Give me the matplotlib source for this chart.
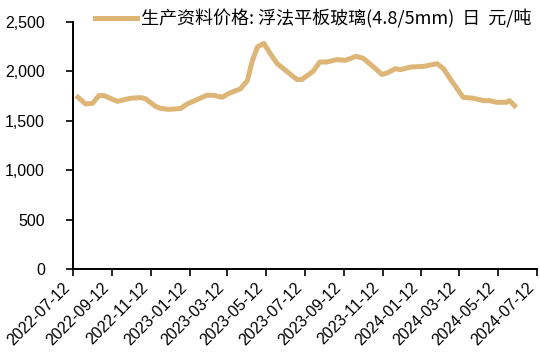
import pandas as pd
import matplotlib
matplotlib.use("Agg")
import matplotlib.pyplot as plt
import matplotlib.dates as mdates
from matplotlib.ticker import FuncFormatter

plt.rcParams["font.family"] = ["Liberation Sans", "Noto Sans CJK SC", "DejaVu Sans"]

# weekly float glass price, yuan/ton
dates = [
    "2022-07-20", "2022-08-01", "2022-08-12", "2022-08-22", "2022-08-30",
    "2022-09-20", "2022-10-11", "2022-10-27", "2022-11-04", "2022-11-19",
    "2022-11-27", "2022-12-10", "2022-12-29", "2023-01-08", "2023-02-08",
    "2023-02-19", "2023-03-04", "2023-03-17", "2023-04-02", "2023-04-13",
    "2023-04-21", "2023-04-29", "2023-05-09", "2023-05-19", "2023-05-30",
    "2023-06-09", "2023-06-20", "2023-06-30", "2023-07-08", "2023-07-26",
    "2023-08-05", "2023-08-16", "2023-09-01", "2023-09-14", "2023-10-02",
    "2023-10-13", "2023-10-29", "2023-11-11", "2023-11-19", "2023-12-02",
    "2023-12-10", "2023-12-26", "2024-01-16", "2024-02-06", "2024-02-16",
    "2024-03-03", "2024-03-18", "2024-04-03", "2024-04-19", "2024-04-29",
    "2024-05-09", "2024-05-25", "2024-05-30", "2024-06-07",
]
prices = [
    1738, 1670, 1677, 1755, 1755,
    1697, 1728, 1735, 1721, 1646,
    1626, 1615, 1625, 1670, 1758,
    1758, 1738, 1783, 1823, 1908,
    2112, 2248, 2283, 2180, 2078,
    2027, 1969, 1918, 1918, 2003,
    2095, 2095, 2119, 2112, 2153,
    2130, 2044, 1969, 1983, 2027,
    2017, 2044, 2051, 2078, 2027,
    1874, 1738, 1728, 1704, 1704,
    1687, 1687, 1704, 1653,
]
tick_dates = [
    "2022-07-12", "2022-09-12", "2022-11-12", "2023-01-12", "2023-03-12",
    "2023-05-12", "2023-07-12", "2023-09-12", "2023-11-12", "2024-01-12",
    "2024-03-12", "2024-05-12", "2024-07-12",
]
series_label = "生产资料价格: 浮法平板玻璃(4.8/5mm)  日  元/吨"

df = pd.DataFrame({"date": pd.to_datetime(dates), "price": prices})

fig = plt.figure(figsize=(5.4, 3.52), dpi=100)
ax = fig.add_axes([0.135, 0.236, 0.859, 0.7015])

ax.plot(df["date"], df["price"], color="#DDB677", lw=3.6,
        solid_joinstyle="round", label=series_label)

ax.set_ylim(0, 2500)
ax.set_yticks(range(0, 2501, 500))
ax.yaxis.set_major_formatter(FuncFormatter(lambda v, p: f"{int(v):,}"))

ax.set_xlim(pd.Timestamp(tick_dates[0]), pd.Timestamp(tick_dates[-1]))
ax.set_xticks(pd.to_datetime(tick_dates))
ax.xaxis.set_major_formatter(mdates.DateFormatter("%Y-%m-%d"))

ax.tick_params(axis="both", labelsize=11.5, direction="out", length=5, width=1.2)
ax.tick_params(axis="y", pad=15)
ax.tick_params(axis="x", pad=3)

# rotated date labels, box right edge on the tick
for lab in ax.get_xticklabels():
    lab.set_rotation(45)
    lab.set_ha("right")
    lab.set_va("top")

ax.spines["top"].set_visible(False)
ax.spines["right"].set_visible(False)
ax.spines["left"].set_linewidth(1.4)
ax.spines["bottom"].set_linewidth(1.4)

fig.legend(loc="center left", bbox_to_anchor=(95 / 540, 1 - 19 / 352),
           bbox_transform=fig.transFigure, frameon=False,
           handlelength=2.3, handletextpad=0.25, borderpad=0, borderaxespad=0,
           prop={"family": ["Noto Sans CJK SC", "DejaVu Sans"], "size": 13})

fig.savefig("out.png", dpi=100)
plt.close(fig)
